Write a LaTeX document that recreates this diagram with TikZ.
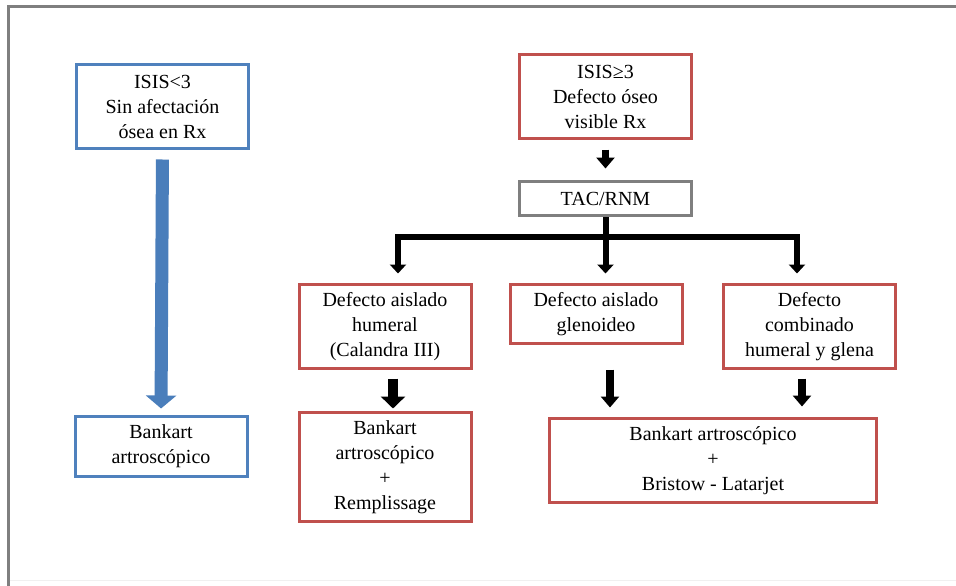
\documentclass[tikz,border=0pt]{standalone}
\usepackage{fontspec}
\setmainfont{Liberation Serif}
\usetikzlibrary{arrows.meta}

\definecolor{boxred}{HTML}{C0504D}
\definecolor{boxblue}{HTML}{4F81BD}
\definecolor{boxgray}{HTML}{7F7F7F}
\definecolor{arrowblue}{HTML}{4A7EBB}

\tikzset{
  box/.style={draw, line width=3pt, align=center, inner sep=0pt,
    minimum width=172pt, font=\fontsize{20}{25}\selectfont},
  redbox/.style={box, draw=boxred},
  bluebox/.style={box, draw=boxblue},
  graybox/.style={box, draw=boxgray},
  darrow/.style={line width=8pt, -{Triangle[width=18pt,length=11pt]}},
  fatarrow/.style={line width=10pt, -{Triangle[width=24pt,length=12pt]}},
  bluearrow/.style={draw=arrowblue, line width=13pt, -{Triangle[width=30pt,length=13pt]}}
}

\begin{document}
\begin{tikzpicture}[x=1pt, y=-1pt]
\useasboundingbox (0,0) rectangle (956,586);

% Frame
\draw[boxgray, line width=3pt] (8,586) -- (8,6.5) -- (956,6.5);
\draw[gray!12, line width=1pt] (9.5,580) -- (956,580);

% Left branch
\node[bluebox, minimum height=84pt] (isisA) at (162.5,106.5) {ISIS<3\\Sin afectación\\ósea en Rx};
\node[bluebox, minimum height=60pt] (bankA) at (161,446.5) {Bankart\\artroscópico};

% Right branch
\node[redbox, minimum height=84pt] (isisB) at (605.5,96.5) {ISIS≥3\\Defecto óseo\\visible Rx};
\node[graybox, minimum height=34pt] (tac) at (605.5,198.5) {TAC/RNM};
\node[redbox, minimum height=84pt] (humeral) at (385,326.5) {Defecto aislado\\humeral\\(Calandra III)};
\node[redbox, minimum height=59pt] (glen) at (596,314) {Defecto aislado\\glenoideo};
\node[redbox, minimum height=84pt] (comb) at (809.5,326.5) {Defecto\\combinado\\humeral y glena};
\node[redbox, minimum height=109pt] (rempl) at (385,467) {Bankart\\artroscópico\\+\\Remplissage};
\node[redbox, minimum height=84pt, minimum width=327pt] (bristow) at (713,460.5) {Bankart artroscópico\\+\\Bristow - Latarjet};

% Arrows
\draw[bluearrow, shorten <=9.5pt, shorten >=6.5pt] (isisA.south) -- (bankA.north);
\draw[darrow, line width=7pt, shorten <=9.5pt, shorten >=11.5pt] (isisB.south) -- (tac.north);

\coordinate (jL) at (398,237);
\coordinate (jR) at (797,237);
\draw[line width=6pt, {Triangle[width=16pt,length=9pt]}-{Triangle[width=16pt,length=9pt]},
  shorten <=9.5pt, shorten >=9.5pt] (jL |- humeral.north) -- (jL) -- (jR) -- (jR |- comb.north);
\draw[line width=6pt, -{Triangle[width=16pt,length=9pt]}, shorten >=9.5pt] (tac.south) -- (tac.south |- glen.north);

\coordinate (hA) at ([xshift=8pt]humeral.south);
\coordinate (gA) at ([xshift=14pt]glen.south);
\coordinate (cA) at ([xshift=-7.5pt]comb.south);
\draw[fatarrow, shorten <=8.5pt, shorten >=2.5pt] (hA) -- (hA |- rempl.north);
\draw[darrow, shorten <=24.5pt, shorten >=9.5pt] (gA) -- (gA |- bristow.north);
\draw[darrow, shorten <=8.5pt, shorten >=10.5pt] (cA) -- (cA |- bristow.north);
\end{tikzpicture}
\end{document}
